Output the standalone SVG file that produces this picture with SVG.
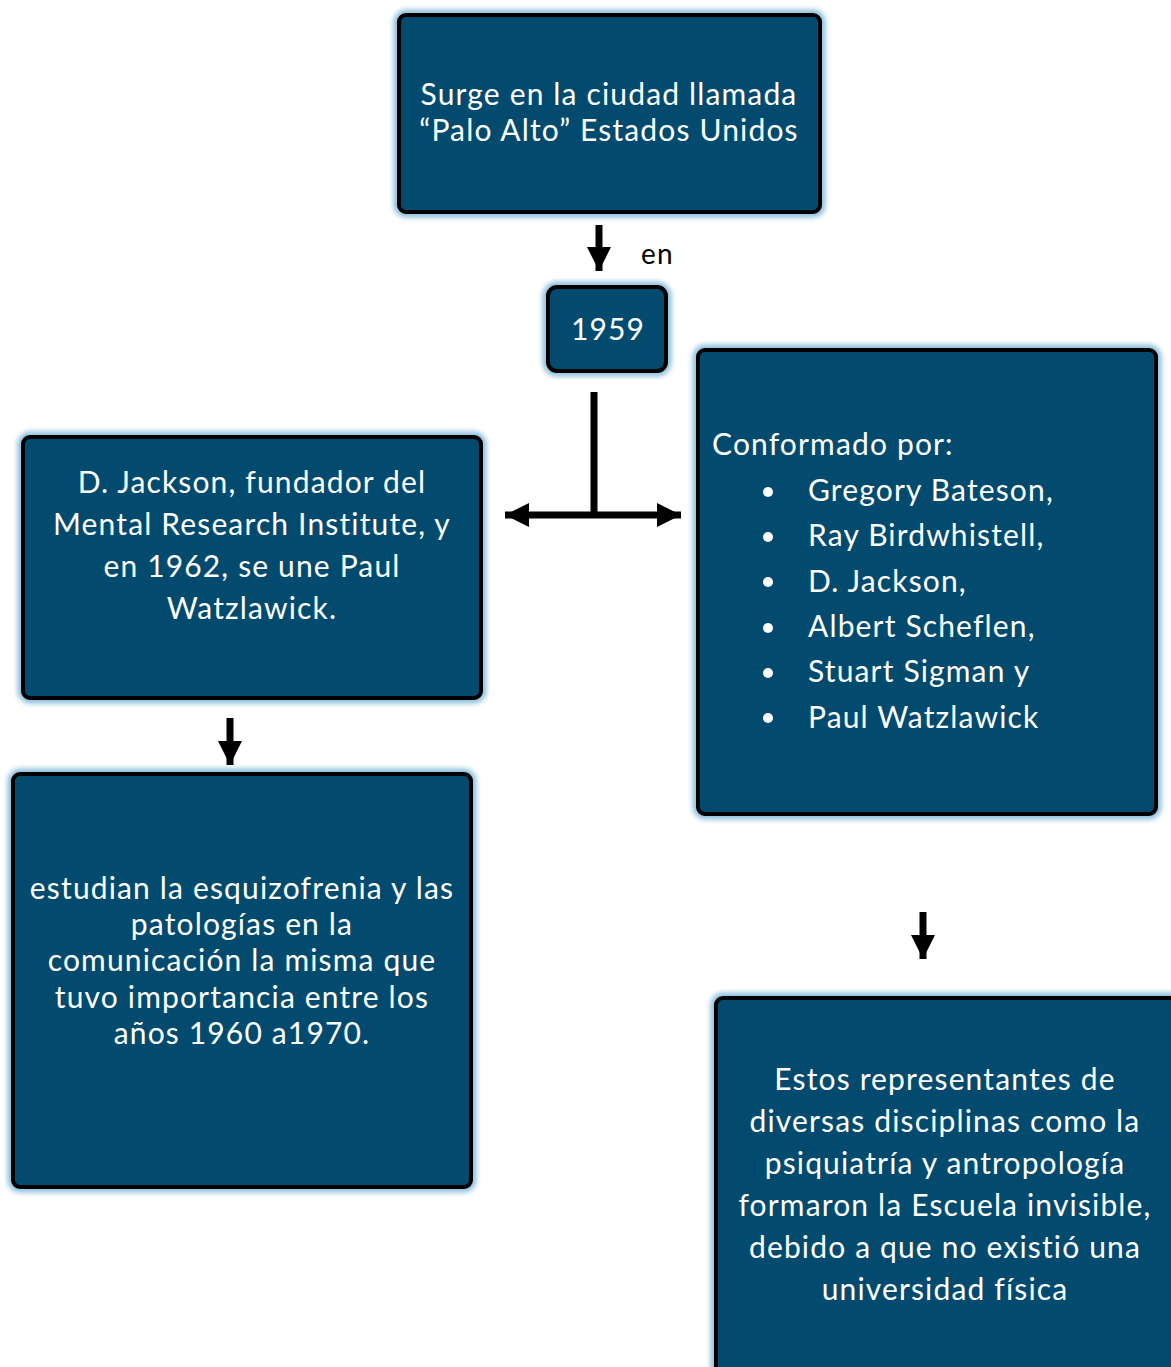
<svg xmlns="http://www.w3.org/2000/svg" width="1171" height="1367" viewBox="0 0 1171 1367">
<defs>
<filter id="glow" x="-10%" y="-10%" width="120%" height="120%">
<feGaussianBlur stdDeviation="2.5"/>
</filter>
<marker id="ah" viewBox="0 0 24 24" refX="24" refY="12" markerWidth="24" markerHeight="24" markerUnits="userSpaceOnUse" orient="auto">
<path d="M0,0 L24,12 L0,24 Z" fill="#000"/>
</marker>
</defs>
<style>
.halo{fill:none;stroke:#8dbfdc;stroke-width:11;filter:url(#glow)}
.box{fill:#034b6e;stroke:#000;stroke-width:4}
.t{font-family:Lato,"Liberation Sans",sans-serif;font-size:30px;letter-spacing:1.15px;fill:#fff}
.c{text-anchor:middle}
.ln{stroke:#000;stroke-width:7;fill:none}
.dn{stroke:#000;stroke-width:7;fill:none;marker-end:url(#ah)}
</style>
<rect width="1171" height="1367" fill="#fff"/>
<g id="connectors">
<line class="dn" x1="599" y1="225" x2="599" y2="271"/>
<text class="t" x="641" y="264" style="fill:#000;font-size:28px">en</text>
<line class="ln" x1="594" y1="392" x2="594" y2="518"/>
<line class="dn" x1="594" y1="515" x2="505" y2="515"/>
<line class="dn" x1="594" y1="515" x2="681" y2="515"/>
<line class="dn" x1="230" y1="718" x2="230" y2="765"/>
<line class="dn" x1="923" y1="912" x2="923" y2="959"/>
</g>
<g id="n1">
<rect class="halo" x="399" y="15" width="421" height="197" rx="7"/>
<rect class="box" x="399" y="15" width="421" height="197" rx="7"/>
<text class="t c" x="609" y="105">Surge en la ciudad llamada</text>
<text class="t c" x="609" y="141">“Palo Alto” Estados Unidos</text>
</g>
<g id="n2">
<rect class="halo" x="548" y="287" width="118" height="84" rx="9"/>
<rect class="box" x="548" y="287" width="118" height="84" rx="9"/>
<text class="t c" x="608" y="340">1959</text>
</g>
<g id="n3">
<rect class="halo" x="23" y="437" width="458" height="261" rx="7"/>
<rect class="box" x="23" y="437" width="458" height="261" rx="7"/>
<text class="t c" x="252" y="493">D. Jackson, fundador del</text>
<text class="t c" x="252" y="535">Mental Research Institute, y</text>
<text class="t c" x="252" y="577">en 1962, se une Paul</text>
<text class="t c" x="252" y="619">Watzlawick.</text>
</g>
<g id="n4">
<rect class="halo" x="698" y="350" width="458" height="464" rx="7"/>
<rect class="box" x="698" y="350" width="458" height="464" rx="7"/>
<text class="t" x="712" y="455">Conformado por:</text>
<g fill="#fff">
<circle cx="768" cy="492" r="5"/>
<circle cx="768" cy="537" r="5"/>
<circle cx="768" cy="582" r="5"/>
<circle cx="768" cy="628" r="5"/>
<circle cx="768" cy="673" r="5"/>
<circle cx="768" cy="718" r="5"/>
</g>
<text class="t" x="808" y="501">Gregory Bateson,</text>
<text class="t" x="808" y="546">Ray Birdwhistell,</text>
<text class="t" x="808" y="592">D. Jackson,</text>
<text class="t" x="808" y="637">Albert Scheflen,</text>
<text class="t" x="808" y="682">Stuart Sigman y</text>
<text class="t" x="808" y="728">Paul Watzlawick</text>
</g>
<g id="n5">
<rect class="halo" x="13" y="774" width="458" height="413" rx="7"/>
<rect class="box" x="13" y="774" width="458" height="413" rx="7"/>
<text class="t c" x="242" y="899">estudian la esquizofrenia y las</text>
<text class="t c" x="242" y="935">patologías en la</text>
<text class="t c" x="242" y="971">comunicación  la misma que</text>
<text class="t c" x="242" y="1008">tuvo  importancia entre los</text>
<text class="t c" x="242" y="1044">años 1960 a1970.</text>
</g>
<g id="n6">
<rect class="halo" x="716" y="998" width="470" height="400" rx="7"/>
<rect class="box" x="716" y="998" width="470" height="400" rx="7"/>
<text class="t c" x="945" y="1090">Estos representantes de</text>
<text class="t c" x="945" y="1132">diversas disciplinas como la</text>
<text class="t c" x="945" y="1174">psiquiatría y antropología</text>
<text class="t c" x="945" y="1216">formaron la Escuela invisible,</text>
<text class="t c" x="945" y="1258">debido a que no existió una</text>
<text class="t c" x="945" y="1300">universidad  física</text>
</g>
</svg>
